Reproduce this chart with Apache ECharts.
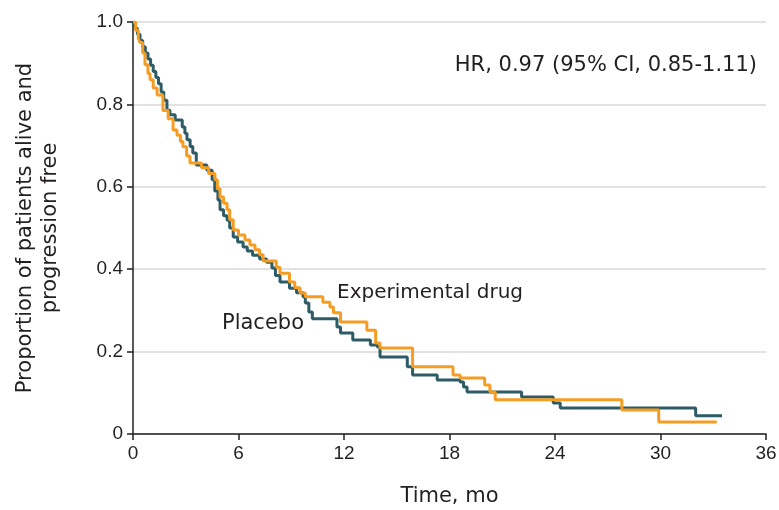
<!DOCTYPE html>
<html><head><meta charset="utf-8">
<script src="https://cdn.jsdelivr.net/npm/echarts@6/dist/echarts.min.js"></script>
<style>html,body{margin:0;padding:0;background:#fff}#c{width:779px;height:510px}</style>
</head><body><div id="c"></div>
<script>
var xTicks = [0, 6, 12, 18, 24, 30, 36];
var yTicks = [0, 0.2, 0.4, 0.6, 0.8, 1.0];
var placeboTime = [0,0.1,0.25,0.4,0.55,0.7,0.85,1.0,1.15,1.3,1.45,1.6,1.75,1.93,2.1,2.4,2.8,2.95,3.07,3.25,3.4,3.6,4.2,4.5,4.65,4.83,4.95,5.15,5.35,5.5,5.7,5.95,6.26,6.5,6.8,7.2,7.6,7.9,8.1,8.36,8.9,9.3,9.67,9.8,10.0,10.2,11.6,11.8,12.5,13.5,13.9,14.05,15.6,15.9,17.3,18.6,18.8,19.0,22.1,23.9,24.3,32.0,33.5];
var placeboSurv = [1,0.985,0.97,0.955,0.94,0.925,0.91,0.895,0.88,0.865,0.85,0.83,0.81,0.786,0.775,0.762,0.745,0.73,0.714,0.698,0.682,0.653,0.64,0.617,0.59,0.568,0.544,0.53,0.519,0.5,0.478,0.466,0.454,0.444,0.434,0.425,0.417,0.403,0.385,0.369,0.354,0.343,0.333,0.318,0.296,0.28,0.26,0.245,0.228,0.216,0.211,0.187,0.163,0.143,0.131,0.126,0.114,0.102,0.09,0.075,0.063,0.044,0.044];
var expTime = [0,0.15,0.3,0.4,0.55,0.68,0.85,0.97,1.15,1.37,1.7,2.0,2.28,2.5,2.7,2.84,3.05,3.24,3.9,4.3,4.66,4.8,4.95,5.15,5.35,5.5,5.7,6.0,6.37,6.65,6.94,7.2,7.4,8.15,8.36,8.9,9.2,9.5,9.8,10.8,11.2,11.4,11.8,13.3,13.8,14.05,15.9,18.2,18.6,20.0,20.3,20.6,27.8,29.9,33.2];
var expSurv = [1,0.98,0.96,0.95,0.925,0.896,0.875,0.86,0.84,0.823,0.785,0.765,0.738,0.725,0.71,0.697,0.675,0.658,0.646,0.632,0.617,0.595,0.575,0.56,0.544,0.52,0.495,0.483,0.471,0.459,0.447,0.435,0.42,0.405,0.39,0.369,0.355,0.342,0.333,0.32,0.308,0.294,0.272,0.252,0.221,0.209,0.163,0.143,0.136,0.119,0.102,0.083,0.058,0.029,0.029];
var seriesNames = ['Placebo', 'Experimental drug'];
var hrText = 'HR, 0.97 (95% CI, 0.85-1.11)';

function pairs(t, v) { return t.map(function (x, i) { return [x, v[i]]; }); }
var TFONT = 'Liberation Sans';
var FONT = 'DejaVu Sans';
var TXT = '#231f20';
var chart = echarts.init(document.getElementById('c'));
chart.setOption({
  animation: false,
  grid: { left: 133, right: 13, top: 22, bottom: 76, outerBoundsMode: 'none', containLabel: false },
  xAxis: {
    type: 'value', min: 0, max: 36, interval: 6,
    name: 'Time, mo', nameLocation: 'middle', nameGap: 52,
    nameTextStyle: { fontFamily: FONT, fontSize: 21, color: TXT },
    axisLine: { lineStyle: { color: TXT, width: 1.5 } },
    axisTick: { length: 6, lineStyle: { color: TXT, width: 1.5 } },
    axisLabel: { fontFamily: TFONT, fontSize: 19, color: TXT, margin: 10 },
    splitLine: { show: false }
  },
  yAxis: {
    type: 'value', min: 0, max: 1, interval: 0.2,
    name: 'Proportion of patients alive and\nprogression free', nameLocation: 'middle', nameGap: 70, nameRotate: 90,
    nameTextStyle: { fontFamily: FONT, fontSize: 21, color: TXT, lineHeight: 25 },
    axisLine: { show: true, lineStyle: { color: TXT, width: 1.5 } },
    axisTick: { show: true, length: 6, lineStyle: { color: TXT, width: 1.5 } },
    axisLabel: { fontFamily: TFONT, fontSize: 19, color: TXT, margin: 10,
      formatter: function (v) { return v === 0 ? '0' : v.toFixed(1); } },
    splitLine: { show: true, lineStyle: { color: '#d9d9d9', width: 1.5 } }
  },
  series: [
    { name: seriesNames[0], type: 'line', step: 'end', showSymbol: false,
      data: pairs(placeboTime, placeboSurv), lineStyle: { color: '#2d5c67', width: 3 } },
    { name: seriesNames[1], type: 'line', step: 'end', showSymbol: false,
      data: pairs(expTime, expSurv), lineStyle: { color: '#f59d23', width: 3 } }
  ],
  graphic: [
    { type: 'text', right: 22, top: 55, style: { text: hrText, font: '21px "' + FONT + '"', fill: TXT } },
    { type: 'text', left: 337, top: 283, style: { text: seriesNames[1], font: '20px "' + FONT + '"', fill: TXT } },
    { type: 'text', left: 222, top: 313, style: { text: seriesNames[0], font: '21px "' + FONT + '"', fill: TXT } }
  ]
});
</script></body></html>
